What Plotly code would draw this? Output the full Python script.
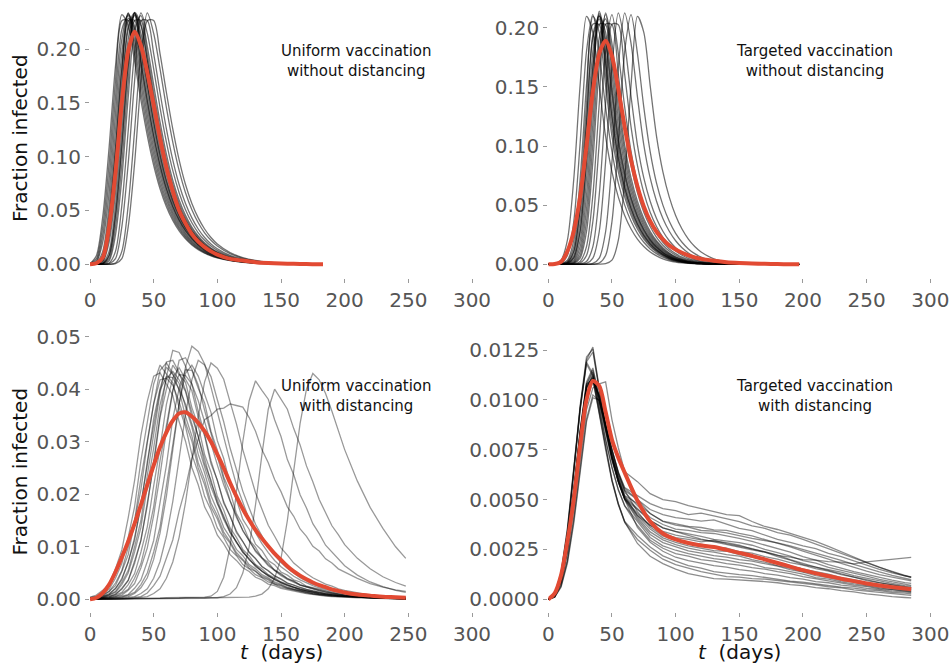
import plotly.graph_objects as go

FONT = "DejaVu Sans"
RUN_ALPHA = {"x": 0.55, "x2": 0.55, "x3": 0.40, "x4": 0.45}
MEAN_COLOR = "#E24A33"
TICK_COLOR = "#555555"

X_TICKS = [0, 50, 100, 150, 200, 250, 300]
X_LABELS = ["0", "50", "100", "150", "200", "250", "300"]

# ---------------- Panel 1: uniform vaccination without distancing (units of 1e-4)
P1_UNIT = 1e-4
P1_DAYS = [0, 5, 10, 15, 20, 25, 30, 35, 40, 45, 50, 55, 60, 65, 70, 75, 80, 85, 90, 95, 100,
           110, 120, 130, 140, 150, 160, 170, 180, 183]
P1_RUNS = [
    [7, 80, 440, 1085, 1840, 2320, 2215, 1888, 1525, 1196, 920, 702, 535, 408, 310, 236, 179, 136, 103, 78, 59, 34, 19, 10, 6, 3, 2, 1, 0, 0],
    [5, 52, 348, 935, 1700, 2262, 2265, 1958, 1596, 1258, 970, 741, 565, 431, 328, 249, 189, 144, 109, 83, 63, 36, 20, 11, 6, 3, 2, 1, 0, 0],
    [3, 33, 270, 795, 1550, 2180, 2310, 2025, 1668, 1322, 1023, 782, 597, 455, 346, 263, 200, 152, 115, 88, 67, 38, 22, 12, 6, 3, 2, 1, 0, 0],
    [2, 20, 205, 665, 1395, 2090, 2330, 2088, 1742, 1388, 1078, 826, 630, 480, 366, 278, 211, 160, 122, 92, 70, 40, 23, 13, 7, 4, 2, 1, 0, 0],
    [1, 12, 120, 545, 1240, 1965, 2335, 2145, 1815, 1456, 1136, 872, 665, 507, 386, 293, 223, 170, 129, 98, 74, 42, 24, 13, 7, 4, 2, 1, 0, 0],
    [1, 7, 80, 440, 1085, 1840, 2320, 2215, 1888, 1525, 1196, 920, 702, 535, 408, 310, 236, 179, 136, 103, 78, 44, 25, 14, 8, 4, 2, 1, 0, 0],
    [1, 7, 78, 430, 1065, 1810, 2285, 2190, 1870, 1515, 1190, 918, 702, 537, 410, 312, 238, 181, 137, 104, 79, 45, 25, 14, 8, 4, 2, 1, 0, 0],
    [0, 5, 52, 348, 935, 1700, 2262, 2265, 1958, 1596, 1258, 970, 741, 565, 431, 328, 249, 189, 144, 109, 83, 47, 27, 15, 8, 4, 2, 1, 0, 0],
    [0, 3, 33, 270, 795, 1550, 2180, 2310, 2025, 1668, 1322, 1023, 782, 597, 455, 346, 263, 200, 152, 115, 88, 50, 29, 16, 9, 5, 2, 1, 0, 0],
    [0, 3, 35, 280, 815, 1580, 2215, 2335, 2040, 1670, 1315, 1012, 772, 588, 448, 340, 258, 196, 149, 113, 86, 49, 28, 16, 9, 5, 2, 1, 0, 0],
    [0, 2, 20, 205, 665, 1395, 2090, 2330, 2088, 1742, 1388, 1078, 826, 630, 480, 366, 278, 211, 160, 122, 92, 53, 30, 17, 9, 5, 3, 1, 0, 0],
    [0, 1, 12, 120, 545, 1240, 1965, 2335, 2145, 1815, 1456, 1136, 872, 665, 507, 386, 293, 223, 170, 129, 98, 56, 32, 18, 10, 5, 3, 1, 1, 0],
    [0, 1, 7, 80, 440, 1085, 1840, 2320, 2215, 1888, 1525, 1196, 920, 702, 535, 408, 310, 236, 179, 136, 103, 59, 34, 19, 10, 6, 3, 1, 1, 0],
    [0, 1, 8, 85, 455, 1110, 1870, 2340, 2230, 1900, 1530, 1196, 918, 700, 533, 406, 308, 234, 178, 135, 102, 58, 34, 19, 10, 6, 3, 1, 1, 0],
    [0, 0, 5, 52, 348, 935, 1700, 2262, 2265, 1958, 1596, 1258, 970, 741, 565, 431, 328, 249, 189, 144, 109, 63, 36, 20, 11, 6, 3, 2, 1, 0],
    [0, 0, 3, 33, 270, 795, 1550, 2180, 2310, 2025, 1668, 1322, 1023, 782, 597, 455, 346, 263, 200, 152, 115, 67, 38, 22, 12, 6, 3, 2, 1, 0],
    [0, 0, 1, 12, 120, 545, 1240, 1965, 2335, 2145, 1815, 1456, 1136, 872, 665, 507, 386, 293, 223, 170, 129, 74, 42, 24, 13, 7, 4, 2, 1, 1],
    [0, 0, 0, 5, 52, 348, 935, 1700, 2262, 2265, 1958, 1596, 1258, 970, 741, 565, 431, 328, 249, 189, 144, 83, 47, 27, 15, 8, 4, 2, 1, 1],
    [0, 0, 0, 1, 12, 120, 545, 1240, 1965, 2335, 2145, 1815, 1456, 1136, 872, 665, 507, 386, 293, 223, 170, 98, 56, 32, 18, 10, 5, 3, 1, 1],
    [0, 0, 0, 0, 5, 52, 348, 935, 1700, 2262, 2265, 1958, 1596, 1258, 970, 741, 565, 431, 328, 249, 189, 109, 63, 36, 20, 11, 6, 3, 2, 1],
]
P1_MEAN = [0, 10, 60, 350, 850, 1500, 1980, 2160, 2030, 1780, 1480, 1170, 900, 680, 500, 380, 280, 210, 160, 120, 90,
           50, 35, 20, 12, 7, 4, 2, 1, 1]

# ---------------- Panel 2: targeted vaccination without distancing (units of 1e-4)
P2_UNIT = 1e-4
P2_DAYS = [0, 5, 10, 15, 20, 25, 30, 35, 40, 45, 50, 55, 60, 65, 70, 75, 80, 85, 90, 95, 100, 105, 110, 115, 120,
           130, 140, 150, 160, 170, 180, 190, 197]
P2_RUNS = [
    [1, 5, 35, 205, 720, 1515, 2095, 1960, 1510, 1082, 782, 568, 413, 298, 213, 150, 104, 71, 46, 30, 19, 12, 7, 5, 3, 1, 0, 0, 0, 0, 0, 0, 0],
    [0, 1, 11, 75, 362, 1025, 1800, 2110, 1782, 1328, 952, 686, 500, 363, 261, 186, 130, 90, 60, 39, 25, 16, 10, 6, 4, 2, 1, 0, 0, 0, 0, 0, 0],
    [0, 1, 5, 35, 205, 720, 1515, 2095, 1960, 1510, 1082, 782, 568, 413, 298, 213, 150, 104, 71, 46, 30, 19, 12, 7, 5, 2, 1, 0, 0, 0, 0, 0, 0],
    [0, 0, 3, 24, 150, 585, 1355, 2030, 2025, 1603, 1160, 836, 606, 440, 319, 228, 161, 112, 77, 50, 33, 21, 13, 8, 5, 2, 1, 0, 0, 0, 0, 0, 0],
    [0, 0, 2, 16, 107, 465, 1190, 1915, 2075, 1694, 1242, 893, 645, 470, 340, 244, 173, 121, 83, 55, 36, 23, 14, 9, 6, 3, 1, 0, 0, 0, 0, 0, 0],
    [0, 0, 2, 17, 110, 475, 1210, 1940, 2100, 1710, 1250, 897, 647, 471, 340, 244, 173, 121, 83, 55, 36, 23, 14, 9, 6, 3, 1, 0, 0, 0, 0, 0, 0],
    [0, 0, 1, 11, 75, 362, 1025, 1800, 2110, 1782, 1328, 952, 686, 500, 363, 261, 186, 130, 90, 60, 39, 25, 16, 10, 6, 3, 1, 1, 0, 0, 0, 0, 0],
    [0, 0, 1, 7, 52, 275, 868, 1665, 2125, 1865, 1418, 1010, 730, 533, 387, 279, 199, 140, 96, 64, 42, 27, 17, 11, 7, 3, 1, 1, 0, 0, 0, 0, 0],
    [0, 0, 1, 8, 56, 285, 880, 1670, 2140, 1900, 1460, 1050, 762, 556, 404, 291, 207, 145, 100, 67, 44, 28, 18, 11, 7, 3, 1, 1, 0, 0, 0, 0, 0],
    [0, 0, 1, 5, 35, 205, 720, 1515, 2095, 1960, 1510, 1082, 782, 568, 413, 298, 213, 150, 104, 71, 46, 30, 19, 12, 7, 3, 1, 1, 0, 0, 0, 0, 0],
    [0, 0, 0, 3, 24, 150, 585, 1355, 2030, 2025, 1603, 1160, 836, 606, 440, 319, 228, 161, 112, 77, 50, 33, 21, 13, 8, 3, 2, 1, 0, 0, 0, 0, 0],
    [0, 0, 0, 2, 16, 107, 465, 1190, 1915, 2075, 1694, 1242, 893, 645, 470, 340, 244, 173, 121, 83, 55, 36, 23, 14, 9, 3, 2, 1, 0, 0, 0, 0, 0],
    [0, 0, 0, 1, 11, 75, 362, 1025, 1800, 2110, 1782, 1328, 952, 686, 500, 363, 261, 186, 130, 90, 60, 39, 25, 16, 10, 4, 2, 1, 0, 0, 0, 0, 0],
    [0, 0, 0, 1, 7, 52, 275, 868, 1665, 2125, 1865, 1418, 1010, 730, 533, 387, 279, 199, 140, 96, 64, 42, 27, 17, 11, 4, 2, 1, 0, 0, 0, 0, 0],
    [0, 0, 0, 0, 3, 24, 150, 585, 1355, 2030, 2025, 1603, 1160, 836, 606, 440, 319, 228, 161, 112, 77, 50, 33, 21, 13, 5, 2, 1, 1, 0, 0, 0, 0],
    [0, 0, 0, 0, 1, 11, 75, 362, 1025, 1800, 2110, 1782, 1328, 952, 686, 500, 363, 261, 186, 130, 90, 60, 39, 25, 16, 6, 3, 1, 1, 0, 0, 0, 0],
    [0, 0, 0, 0, 0, 3, 24, 150, 585, 1355, 2030, 2025, 1603, 1160, 836, 606, 440, 319, 228, 161, 112, 77, 50, 33, 21, 8, 3, 2, 1, 0, 0, 0, 0],
    [0, 0, 0, 0, 0, 1, 7, 52, 275, 868, 1665, 2125, 1865, 1418, 1010, 730, 533, 387, 279, 199, 140, 96, 64, 42, 27, 11, 4, 2, 1, 0, 0, 0, 0],
    [0, 0, 0, 0, 0, 0, 1, 7, 52, 275, 868, 1665, 2125, 1865, 1418, 1010, 730, 533, 387, 279, 199, 140, 96, 64, 42, 17, 7, 3, 1, 1, 0, 0, 0],
    [0, 0, 0, 0, 0, 0, 0, 1, 11, 75, 362, 1025, 1800, 2110, 1782, 1328, 952, 686, 500, 363, 261, 186, 130, 90, 60, 25, 10, 4, 2, 1, 0, 0, 0],
    [0, 0, 0, 0, 0, 0, 0, 0, 1, 5, 35, 205, 720, 1515, 2095, 1960, 1510, 1082, 782, 568, 413, 298, 213, 150, 104, 46, 19, 7, 3, 1, 0, 0, 0],
]
P2_MEAN = [0, 2, 20, 110, 280, 570, 1000, 1460, 1780, 1890, 1760, 1480, 1160, 880, 660, 490, 365, 275, 210, 160, 125, 98, 76, 59, 46,
           30, 18, 11, 6, 4, 2, 1, 1]

# ---------------- Panel 3: uniform vaccination with distancing (units of 1e-4)
P3_UNIT = 1e-4
P3_DAYS = [0, 5, 10, 15, 20, 25, 30, 35, 40, 45, 50, 55, 60, 65, 70, 75, 80, 85, 90, 95, 100,
           105, 110, 115, 120, 125, 130, 135, 140, 145, 150, 155, 160, 165, 170, 175, 180, 185, 190, 195, 200,
           210, 220, 230, 240, 248]
P3_RUNS = [
    [4, 8, 17, 29, 58, 94, 155, 226, 312, 377, 425, 431, 410, 388, 338, 301, 251, 218, 176, 153, 122, 106, 85, 74, 60, 53, 42, 37, 29, 26, 21, 18, 15, 13, 11, 9, 7, 6, 5, 5, 4, 3, 2, 2, 1, 1],
    [3, 5, 11, 19, 40, 68, 118, 176, 264, 337, 410, 446, 428, 412, 365, 329, 276, 241, 196, 170, 136, 118, 95, 83, 66, 58, 47, 41, 33, 29, 23, 20, 17, 14, 12, 10, 8, 7, 6, 5, 5, 4, 3, 2, 2, 1],
    [3, 4, 9, 15, 31, 55, 99, 150, 231, 300, 372, 418, 421, 408, 376, 336, 301, 250, 218, 176, 153, 122, 107, 85, 74, 59, 53, 42, 37, 29, 26, 21, 18, 15, 13, 11, 9, 7, 6, 5, 5, 4, 3, 2, 2, 1],
    [3, 4, 7, 15, 26, 53, 85, 144, 209, 298, 372, 436, 450, 430, 398, 348, 311, 260, 227, 184, 159, 128, 110, 89, 77, 63, 54, 44, 39, 31, 27, 22, 19, 16, 13, 11, 9, 8, 7, 6, 5, 4, 3, 2, 2, 1],
    [2, 3, 6, 9, 21, 37, 72, 112, 183, 256, 344, 401, 442, 428, 411, 366, 328, 276, 241, 197, 169, 137, 118, 95, 83, 66, 58, 47, 41, 33, 29, 23, 20, 17, 14, 12, 10, 8, 7, 6, 5, 4, 3, 2, 2, 1],
    [2, 4, 6, 11, 20, 40, 70, 118, 176, 262, 330, 398, 424, 422, 400, 372, 334, 292, 252, 214, 182, 152, 128, 108, 90, 76, 64, 54, 45, 38, 32, 27, 23, 19, 16, 14, 12, 10, 8, 7, 6, 5, 4, 3, 2, 2],
    [2, 3, 4, 9, 15, 32, 55, 100, 150, 236, 315, 392, 452, 455, 432, 398, 356, 309, 268, 222, 190, 155, 132, 108, 92, 75, 65, 53, 46, 37, 32, 26, 23, 18, 16, 13, 11, 9, 7, 6, 5, 4, 3, 2, 2, 1],
    [2, 3, 4, 8, 13, 28, 50, 90, 137, 215, 288, 370, 420, 434, 418, 396, 347, 311, 258, 227, 183, 159, 127, 110, 89, 78, 62, 54, 44, 39, 31, 27, 22, 19, 16, 13, 11, 9, 8, 7, 6, 4, 3, 2, 2, 1],
    [1, 2, 3, 6, 9, 21, 36, 73, 112, 184, 255, 346, 400, 446, 428, 413, 365, 330, 276, 242, 196, 170, 136, 118, 95, 83, 66, 58, 47, 41, 33, 29, 23, 20, 17, 14, 12, 10, 8, 7, 6, 5, 3, 2, 2, 1],
    [1, 2, 3, 5, 10, 19, 36, 68, 113, 178, 262, 350, 424, 474, 470, 444, 410, 358, 314, 264, 226, 186, 158, 130, 110, 90, 77, 63, 54, 45, 38, 31, 27, 22, 19, 16, 13, 11, 10, 8, 6, 5, 3, 2, 2, 1],
    [1, 2, 3, 4, 8, 13, 28, 49, 90, 138, 216, 288, 371, 422, 441, 418, 397, 347, 311, 258, 227, 183, 159, 127, 110, 89, 78, 62, 55, 44, 39, 31, 27, 22, 19, 16, 13, 11, 9, 8, 7, 5, 3, 2, 2, 1],
    [1, 1, 2, 3, 5, 11, 19, 40, 68, 118, 176, 264, 334, 398, 428, 426, 410, 378, 338, 296, 256, 218, 186, 156, 132, 111, 93, 79, 66, 56, 47, 40, 34, 28, 24, 20, 17, 14, 12, 10, 8, 6, 4, 3, 2, 1],
    [1, 1, 2, 3, 5, 8, 17, 30, 60, 98, 160, 236, 322, 396, 455, 460, 438, 408, 360, 316, 268, 228, 188, 160, 130, 112, 91, 78, 64, 55, 45, 38, 32, 27, 23, 19, 16, 13, 11, 9, 7, 5, 4, 3, 2, 1],
    [1, 1, 1, 2, 3, 6, 9, 21, 37, 72, 112, 184, 255, 344, 401, 437, 436, 402, 374, 320, 284, 233, 205, 163, 142, 113, 99, 79, 70, 55, 49, 39, 35, 27, 24, 20, 17, 14, 12, 10, 8, 6, 4, 3, 2, 2],
    [0, 1, 1, 2, 3, 4, 8, 13, 28, 50, 90, 138, 216, 290, 372, 430, 446, 425, 390, 356, 302, 268, 219, 190, 152, 133, 105, 93, 74, 66, 52, 46, 37, 33, 25, 22, 19, 16, 13, 11, 9, 6, 5, 3, 2, 2],
    [0, 1, 1, 1, 2, 3, 5, 11, 22, 41, 76, 126, 196, 284, 372, 442, 482, 472, 448, 404, 356, 306, 262, 218, 183, 152, 127, 106, 89, 74, 62, 53, 44, 37, 31, 26, 22, 19, 15, 13, 11, 8, 6, 4, 3, 2],
    [0, 0, 1, 1, 1, 2, 3, 5, 11, 20, 40, 72, 120, 186, 268, 352, 418, 455, 446, 424, 380, 338, 288, 248, 206, 174, 143, 121, 100, 84, 70, 59, 50, 41, 35, 29, 25, 21, 18, 15, 12, 8, 6, 5, 3, 3],
    [0, 0, 0, 0, 1, 1, 1, 2, 3, 5, 11, 20, 40, 71, 118, 184, 266, 348, 414, 450, 440, 419, 376, 334, 285, 246, 203, 172, 141, 120, 98, 84, 69, 59, 49, 41, 35, 29, 25, 20, 17, 12, 8, 6, 5, 4],
    [0, 0, 0, 1, 1, 1, 2, 3, 5, 12, 26, 44, 77, 113, 168, 212, 268, 306, 342, 350, 362, 364, 372, 369, 366, 346, 320, 285, 260, 228, 205, 176, 158, 134, 120, 101, 92, 77, 69, 58, 52, 40, 30, 23, 18, 15],
    [0, 1, 1, 1, 1, 1, 2, 2, 2, 2, 2, 2, 3, 3, 3, 3, 3, 4, 4, 6, 15, 42, 100, 205, 300, 378, 416, 398, 381, 342, 310, 266, 237, 199, 174, 144, 125, 103, 90, 75, 64, 46, 33, 24, 17, 13],
    [0, 1, 1, 1, 1, 1, 1, 2, 2, 2, 2, 2, 2, 2, 2, 3, 3, 3, 3, 3, 3, 5, 10, 22, 50, 100, 180, 275, 362, 400, 382, 362, 325, 294, 254, 224, 190, 166, 140, 123, 104, 78, 58, 43, 32, 25],
    [0, 1, 1, 1, 1, 1, 1, 1, 2, 2, 2, 2, 2, 2, 2, 2, 2, 2, 2, 3, 3, 3, 3, 3, 3, 4, 6, 10, 20, 40, 78, 150, 245, 335, 400, 430, 418, 392, 358, 322, 285, 225, 175, 135, 100, 78],
]
P3_MEAN = [0, 3, 12, 28, 52, 80, 110, 144, 180, 218, 255, 290, 318, 340, 354, 356, 348, 336, 320, 300, 276,
           250, 222, 196, 172, 151, 132, 116, 101, 87, 75, 63, 53, 45, 38, 32, 27, 23, 19, 16, 13,
           9, 7, 5, 4, 3]

# ---------------- Panel 4: targeted vaccination with distancing (units of 1e-5)
P4_UNIT = 1e-5
P4_DAYS = [0, 5, 10, 15, 20, 25, 30, 35, 40, 45, 50, 55, 60,
           70, 80, 90, 100, 110, 120, 130, 140, 150, 160, 170, 180, 190, 200, 210, 220, 230, 240, 250, 260, 270, 280, 285]
P4_RUNS = [
    [0, 10, 70, 200, 420, 700, 950, 1060, 1080, 1090, 900, 760, 640,
     590, 530, 500, 490, 470, 455, 440, 425, 420, 390, 365, 350, 330, 310, 290, 265, 240, 212, 185, 160, 138, 118, 112],
    [0, 10, 60, 180, 380, 640, 890, 1010, 1000, 880, 750, 640, 560,
     520, 480, 455, 445, 425, 432, 418, 405, 390, 368, 356, 334, 322, 300, 276, 256, 230, 205, 182, 160, 140, 118, 110],
    [0, 12, 65, 190, 395, 660, 905, 1025, 995, 870, 745, 635, 555,
     500, 430, 390, 372, 362, 345, 342, 333, 318, 306, 294, 283, 268, 250, 233, 215, 195, 175, 155, 137, 120, 104, 98],
    [0, 15, 85, 240, 480, 760, 1010, 1100, 1020, 880, 745, 630, 545,
     500, 450, 425, 410, 402, 392, 398, 378, 356, 344, 322, 300, 286, 268, 254, 230, 214, 193, 170, 150, 133, 118, 110],
    [0, 20, 100, 280, 540, 830, 1080, 1150, 1010, 860, 720, 610, 520,
     480, 430, 392, 378, 366, 360, 348, 346, 330, 318, 300, 282, 263, 242, 220, 201, 180, 160, 141, 124, 110, 97, 92],
    [0, 16, 88, 248, 492, 772, 1020, 1108, 1012, 868, 732, 620, 536,
     470, 410, 375, 352, 346, 334, 330, 318, 306, 290, 273, 256, 236, 214, 196, 174, 156, 139, 125, 109, 96, 84, 80],
    [0, 18, 95, 265, 520, 810, 1060, 1120, 990, 840, 700, 590, 505,
     450, 395, 358, 340, 328, 316, 300, 291, 284, 271, 250, 234, 216, 194, 181, 160, 146, 129, 116, 100, 87, 76, 70],
    [0, 21, 104, 288, 552, 842, 1090, 1160, 1018, 865, 722, 608, 515,
     455, 395, 358, 338, 320, 302, 288, 276, 260, 248, 236, 220, 211, 199, 196, 189, 186, 178, 188, 194, 201, 204, 210],
    [0, 25, 120, 330, 640, 960, 1200, 1265, 1060, 870, 715, 595, 505,
     420, 370, 340, 322, 311, 298, 291, 284, 271, 251, 239, 221, 199, 181, 161, 149, 136, 119, 106, 91, 80, 69, 65],
    [0, 17, 92, 258, 510, 800, 1050, 1130, 1000, 845, 702, 592, 506,
     430, 372, 330, 309, 301, 288, 296, 279, 266, 254, 236, 214, 196, 174, 161, 144, 129, 111, 99, 84, 73, 62, 58],
    [0, 14, 80, 232, 470, 750, 1000, 1090, 1025, 885, 748, 632, 546,
     440, 362, 318, 296, 284, 276, 264, 256, 239, 231, 214, 201, 184, 171, 154, 141, 124, 111, 94, 83, 69, 61, 56],
    [0, 19, 97, 275, 532, 822, 1072, 1140, 1005, 855, 715, 605, 516,
     420, 352, 308, 286, 268, 257, 244, 241, 224, 211, 199, 186, 169, 151, 139, 126, 109, 99, 84, 75, 63, 56, 50],
    [0, 24, 118, 325, 632, 950, 1190, 1240, 1050, 862, 710, 590, 502,
     410, 338, 298, 274, 256, 244, 236, 224, 216, 199, 186, 169, 156, 139, 129, 114, 103, 89, 81, 69, 61, 51, 48],
    [0, 19, 98, 270, 528, 818, 1066, 1115, 985, 836, 696, 586, 500,
     400, 325, 284, 262, 243, 231, 219, 211, 199, 191, 179, 166, 149, 136, 119, 109, 94, 86, 73, 65, 54, 48, 43],
    [0, 25, 130, 350, 650, 950, 1180, 1120, 960, 800, 660, 550, 470,
     390, 310, 268, 246, 229, 216, 204, 196, 184, 176, 159, 151, 139, 126, 109, 101, 87, 78, 67, 60, 49, 44, 40],
    [0, 26, 134, 356, 660, 960, 1190, 1130, 965, 802, 662, 548, 468,
     370, 296, 256, 229, 216, 199, 191, 179, 171, 159, 151, 139, 129, 114, 103, 91, 83, 71, 64, 54, 48, 39, 37],
    [0, 26, 124, 336, 648, 972, 1215, 1255, 1055, 865, 712, 592, 500,
     360, 286, 241, 211, 194, 181, 169, 161, 149, 141, 129, 121, 109, 101, 89, 83, 71, 65, 55, 49, 41, 37, 33],
    [0, 20, 100, 280, 540, 840, 1070, 1110, 940, 760, 600, 480, 390,
     320, 262, 218, 191, 169, 156, 139, 131, 124, 119, 109, 101, 91, 86, 77, 71, 61, 56, 47, 43, 35, 31, 27],
    [0, 21, 104, 286, 548, 850, 1080, 1100, 930, 750, 592, 474, 386,
     300, 246, 201, 174, 156, 139, 126, 114, 111, 104, 101, 94, 89, 79, 73, 63, 57, 47, 41, 33, 29, 21, 20],
    [0, 19, 96, 274, 532, 832, 1062, 1105, 935, 755, 596, 478, 388,
     280, 216, 179, 151, 129, 116, 104, 101, 97, 96, 89, 83, 74, 69, 59, 53, 43, 37, 27, 21, 13, 9, 7],
]
P4_MEAN = [0, 30, 120, 290, 500, 770, 1000, 1095, 1070, 940, 800, 710, 635,
           495, 390, 330, 300, 282, 270, 262, 248, 233, 218, 200, 182, 164, 146, 130, 117, 103, 91, 79, 69, 61, 54, 50]

# ---------------- tick labels and titles
P1_Y_TICKS = [0.0, 0.05, 0.10, 0.15, 0.20]
P1_Y_LABELS = ["0.00", "0.05", "0.10", "0.15", "0.20"]
P2_Y_TICKS = [0.0, 0.05, 0.10, 0.15, 0.20]
P2_Y_LABELS = ["0.00", "0.05", "0.10", "0.15", "0.20"]
P3_Y_TICKS = [0.0, 0.01, 0.02, 0.03, 0.04, 0.05]
P3_Y_LABELS = ["0.00", "0.01", "0.02", "0.03", "0.04", "0.05"]
P4_Y_TICKS = [0.0, 0.0025, 0.005, 0.0075, 0.01, 0.0125]
P4_Y_LABELS = ["0.0000", "0.0025", "0.0050", "0.0075", "0.0100", "0.0125"]

PANEL_TITLES = [
    "Uniform vaccination<br>without distancing",
    "Targeted vaccination<br>without distancing",
    "Uniform vaccination<br>with distancing",
    "Targeted vaccination<br>with distancing",
]
Y_TITLE = "Fraction infected"
X_TITLE = "<i>t</i>\u00a0\u00a0(days)"

for runs, days in ((P1_RUNS, P1_DAYS), (P2_RUNS, P2_DAYS), (P3_RUNS, P3_DAYS), (P4_RUNS, P4_DAYS)):
    for r in runs:
        assert len(r) == len(days), (len(r), len(days))

W, H = 951, 664


def fx(px):
    return px / W


def fy(py):
    return 1 - py / H


fig = go.Figure()

panels = [
    (P1_DAYS, P1_RUNS, P1_MEAN, P1_UNIT, "x", "y", "spline"),
    (P2_DAYS, P2_RUNS, P2_MEAN, P2_UNIT, "x2", "y2", "spline"),
    (P3_DAYS, P3_RUNS, P3_MEAN, P3_UNIT, "x3", "y3", "linear"),
    (P4_DAYS, P4_RUNS, P4_MEAN, P4_UNIT, "x4", "y4", "linear"),
]
for days, runs, mean, unit, xa, ya, shape in panels:
    color = "rgba(0,0,0,%.2f)" % RUN_ALPHA[xa]
    for run in runs:
        line = dict(color=color, width=1.3, shape=shape)
        if shape == "spline":
            line["smoothing"] = 0.8
        fig.add_trace(go.Scatter(x=days, y=[v * unit for v in run], mode="lines", line=line,
                                 xaxis=xa, yaxis=ya, hoverinfo="skip", showlegend=False))
    fig.add_trace(go.Scatter(x=days, y=[v * unit for v in mean], mode="lines",
                             line=dict(color=MEAN_COLOR, width=4, shape="spline", smoothing=0.8),
                             xaxis=xa, yaxis=ya, hoverinfo="skip", showlegend=False))

LEFT = [fx(90), fx(472)]
RIGHT = [fx(548.3), fx(930.3)]
TOP = [fy(277.5), 1.0]
BOTTOM = [fy(612.3), fy(331.5)]

tickfont = dict(family=FONT, size=20, color=TICK_COLOR)


def xax(domain, anchor):
    return dict(domain=domain, anchor=anchor, range=[0, 300], tickmode="array",
                tickvals=X_TICKS, ticktext=X_LABELS, ticks="outside", ticklen=4, tickwidth=1,
                tickcolor="#9a9a9a", tickfont=tickfont, showgrid=False, zeroline=False,
                showline=False, automargin=False, fixedrange=True)


def yax(domain, anchor, rng, vals, labels):
    return dict(domain=domain, anchor=anchor, range=rng, tickmode="array",
                tickvals=vals, ticktext=labels, ticks="outside", ticklen=4, tickwidth=1,
                tickcolor="#9a9a9a", tickfont=tickfont, showgrid=False, zeroline=False,
                showline=False, automargin=False, fixedrange=True)


annotations = []
title_pos = [(356, 61), (814.5, 61), (356, 396), (814.5, 396)]
for text, (xc, yc) in zip(PANEL_TITLES, title_pos):
    annotations.append(dict(text=text, x=fx(xc), y=fy(yc), xref="paper", yref="paper",
                            xanchor="center", yanchor="middle", align="center", showarrow=False,
                            font=dict(family=FONT, size=15, color="#111111")))
for yc in (138, 471.5):
    annotations.append(dict(text=Y_TITLE, x=fx(20), y=fy(yc), xref="paper", yref="paper",
                            xanchor="center", yanchor="middle", textangle=-90, showarrow=False,
                            font=dict(family=FONT, size=20, color="#111111")))
for xc in (281, 739.5):
    annotations.append(dict(text=X_TITLE, x=fx(xc), y=fy(651.5), xref="paper", yref="paper",
                            xanchor="center", yanchor="middle", showarrow=False,
                            font=dict(family=FONT, size=20, color="#111111")))

fig.update_layout(
    template="none",
    width=W, height=H,
    margin=dict(l=0, r=0, t=0, b=0),
    paper_bgcolor="white", plot_bgcolor="white",
    showlegend=False,
    xaxis=xax(LEFT, "y"),
    yaxis=yax(TOP, "x", [-0.01226, 0.24552], P1_Y_TICKS, P1_Y_LABELS),
    xaxis2=xax(RIGHT, "y2"),
    yaxis2=yax(TOP, "x2", [-0.01116, 0.22341], P2_Y_TICKS, P2_Y_LABELS),
    xaxis3=xax(LEFT, "y3"),
    yaxis3=yax(BOTTOM, "x3", [-0.002475, 0.05099], P3_Y_TICKS, P3_Y_LABELS),
    xaxis4=xax(RIGHT, "y4"),
    yaxis4=yax(BOTTOM, "x4", [-0.000652, 0.013428], P4_Y_TICKS, P4_Y_LABELS),
    annotations=annotations,
)

fig.write_html("out.html")
